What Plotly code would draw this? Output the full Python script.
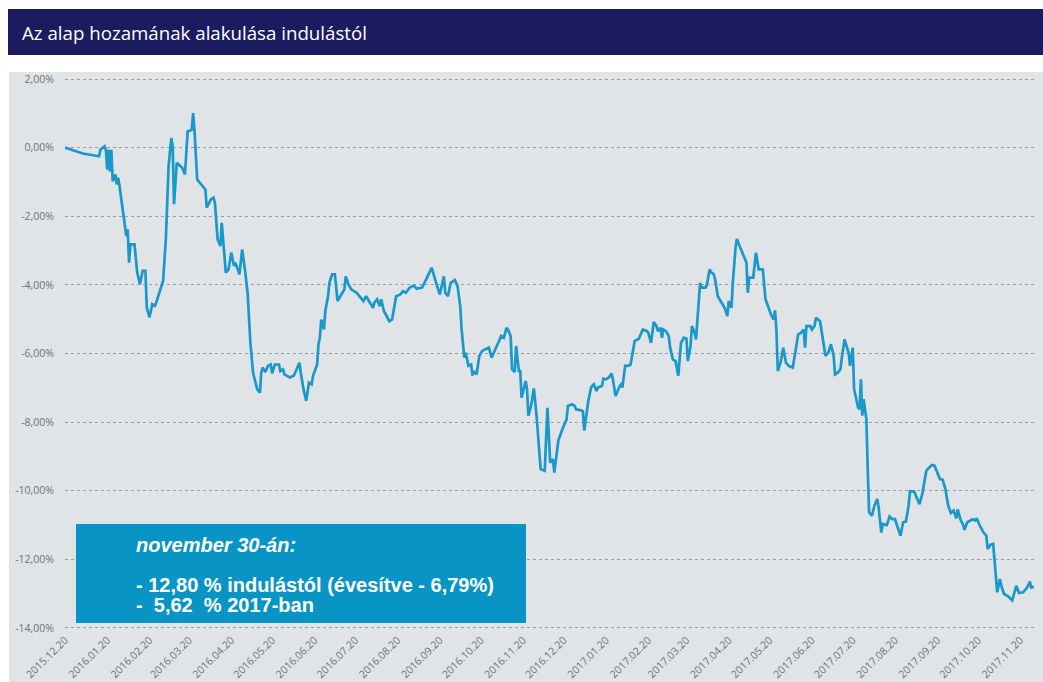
import plotly.graph_objects as go

# ---- data (fund return since launch, %) ----
dates = [
    "2015-12-20", "2016-01-02", "2016-01-14", "2016-01-15", "2016-01-18", "2016-01-19", "2016-01-20",
    "2016-01-21", "2016-01-22", "2016-01-23", "2016-01-24", "2016-01-26", "2016-01-27", "2016-01-28",
    "2016-01-29", "2016-01-31", "2016-02-02", "2016-02-03", "2016-02-04", "2016-02-05", "2016-02-06",
    "2016-02-09", "2016-02-11", "2016-02-13", "2016-02-15", "2016-02-17", "2016-02-18", "2016-02-20",
    "2016-02-22", "2016-02-24", "2016-02-25", "2016-02-28", "2016-03-01", "2016-03-03", "2016-03-05",
    "2016-03-07", "2016-03-08", "2016-03-09", "2016-03-11", "2016-03-15", "2016-03-17", "2016-03-19",
    "2016-03-22", "2016-03-23", "2016-03-24", "2016-03-26", "2016-03-30", "2016-04-01", "2016-04-02",
    "2016-04-05", "2016-04-07", "2016-04-08", "2016-04-10", "2016-04-12", "2016-04-13", "2016-04-15",
    "2016-04-16", "2016-04-18", "2016-04-20", "2016-04-22", "2016-04-23", "2016-04-26", "2016-04-28",
    "2016-04-30", "2016-05-02", "2016-05-04", "2016-05-06", "2016-05-09", "2016-05-11", "2016-05-12",
    "2016-05-13", "2016-05-15", "2016-05-17", "2016-05-19", "2016-05-20", "2016-05-22", "2016-05-25",
    "2016-05-26", "2016-05-28", "2016-05-29", "2016-06-02", "2016-06-05", "2016-06-07", "2016-06-09",
    "2016-06-10", "2016-06-12", "2016-06-14", "2016-06-15", "2016-06-16", "2016-06-18", "2016-06-19",
    "2016-06-22", "2016-06-23", "2016-06-24", "2016-06-25", "2016-06-27", "2016-06-28", "2016-06-30",
    "2016-07-01", "2016-07-03", "2016-07-05", "2016-07-07", "2016-07-09", "2016-07-11", "2016-07-12",
    "2016-07-13", "2016-07-15", "2016-07-17", "2016-07-21", "2016-07-26", "2016-07-28", "2016-07-30",
    "2016-08-02", "2016-08-03", "2016-08-05", "2016-08-07", "2016-08-08", "2016-08-10", "2016-08-12",
    "2016-08-14", "2016-08-16", "2016-08-18", "2016-08-19", "2016-08-22", "2016-08-24", "2016-08-26",
    "2016-08-29", "2016-09-01", "2016-09-03", "2016-09-07", "2016-09-09", "2016-09-10", "2016-09-14",
    "2016-09-16", "2016-09-18", "2016-09-20", "2016-09-21", "2016-09-23", "2016-09-24", "2016-09-26",
    "2016-09-28", "2016-10-01", "2016-10-03", "2016-10-05", "2016-10-06", "2016-10-08", "2016-10-09",
    "2016-10-10", "2016-10-11", "2016-10-13", "2016-10-14", "2016-10-15", "2016-10-17", "2016-10-19",
    "2016-10-21", "2016-10-23", "2016-10-26", "2016-10-28", "2016-10-31", "2016-11-02", "2016-11-04",
    "2016-11-06", "2016-11-08", "2016-11-09", "2016-11-11", "2016-11-12", "2016-11-14", "2016-11-15",
    "2016-11-17", "2016-11-18", "2016-11-19", "2016-11-22", "2016-11-23", "2016-11-24", "2016-11-26",
    "2016-11-28", "2016-11-30", "2016-12-02", "2016-12-03", "2016-12-06", "2016-12-08", "2016-12-10",
    "2016-12-12", "2016-12-13", "2016-12-15", "2016-12-16", "2016-12-19", "2016-12-22", "2016-12-23",
    "2016-12-26", "2016-12-28", "2016-12-29", "2017-01-01", "2017-01-03", "2017-01-04", "2017-01-07",
    "2017-01-09", "2017-01-11", "2017-01-13", "2017-01-14", "2017-01-17", "2017-01-18", "2017-01-20",
    "2017-01-22", "2017-01-24", "2017-01-25", "2017-01-27", "2017-01-28", "2017-01-30", "2017-01-31",
    "2017-02-01", "2017-02-03", "2017-02-05", "2017-02-07", "2017-02-09", "2017-02-10", "2017-02-13",
    "2017-02-14", "2017-02-16", "2017-02-19", "2017-02-20", "2017-02-22", "2017-02-23", "2017-02-24",
    "2017-02-26", "2017-02-27", "2017-03-01", "2017-03-02", "2017-03-03", "2017-03-05", "2017-03-07",
    "2017-03-08", "2017-03-10", "2017-03-12", "2017-03-14", "2017-03-15", "2017-03-16", "2017-03-18",
    "2017-03-20", "2017-03-21", "2017-03-23", "2017-03-24", "2017-03-26", "2017-03-27", "2017-03-29",
    "2017-03-30", "2017-03-31", "2017-04-03", "2017-04-04", "2017-04-06", "2017-04-07", "2017-04-09",
    "2017-04-10", "2017-04-12", "2017-04-14", "2017-04-17", "2017-04-19", "2017-04-20", "2017-04-22",
    "2017-04-23", "2017-04-25", "2017-04-26", "2017-04-28", "2017-05-01", "2017-05-03", "2017-05-04",
    "2017-05-05", "2017-05-08", "2017-05-09", "2017-05-10", "2017-05-12", "2017-05-15", "2017-05-17",
    "2017-05-19", "2017-05-21", "2017-05-23", "2017-05-24", "2017-05-25", "2017-05-26", "2017-05-28",
    "2017-05-30", "2017-06-01", "2017-06-03", "2017-06-06", "2017-06-08", "2017-06-10", "2017-06-12",
    "2017-06-14", "2017-06-15", "2017-06-16", "2017-06-19", "2017-06-20", "2017-06-22", "2017-06-23",
    "2017-06-26", "2017-06-28", "2017-06-30", "2017-07-02", "2017-07-04", "2017-07-06", "2017-07-07",
    "2017-07-09", "2017-07-11", "2017-07-12", "2017-07-14", "2017-07-15", "2017-07-17", "2017-07-18",
    "2017-07-20", "2017-07-21", "2017-07-24", "2017-07-25", "2017-07-26", "2017-07-27", "2017-07-28",
    "2017-07-29", "2017-07-30", "2017-07-31", "2017-08-01", "2017-08-03", "2017-08-05", "2017-08-07",
    "2017-08-08", "2017-08-10", "2017-08-11", "2017-08-14", "2017-08-16", "2017-08-18", "2017-08-20",
    "2017-08-22", "2017-08-24", "2017-08-26", "2017-08-28", "2017-08-30", "2017-08-31", "2017-09-03",
    "2017-09-05", "2017-09-07", "2017-09-09", "2017-09-10", "2017-09-12", "2017-09-13", "2017-09-16",
    "2017-09-18", "2017-09-20", "2017-09-22", "2017-09-24", "2017-09-26", "2017-09-28", "2017-09-30",
    "2017-10-02", "2017-10-04", "2017-10-05", "2017-10-07", "2017-10-09", "2017-10-10", "2017-10-12",
    "2017-10-14", "2017-10-16", "2017-10-18", "2017-10-19", "2017-10-21", "2017-10-24", "2017-10-26",
    "2017-10-27", "2017-10-29", "2017-10-31", "2017-11-01", "2017-11-03", "2017-11-05", "2017-11-06",
    "2017-11-08", "2017-11-11", "2017-11-14", "2017-11-17", "2017-11-19", "2017-11-22", "2017-11-25",
    "2017-11-27", "2017-11-28", "2017-11-30",
]

returns = [
    0.00, -0.17, -0.25, -0.06, 0.04, -0.06, -0.64,
    -0.06, -0.69, -0.06, -0.98, -0.78, -1.07, -0.88,
    -1.12, -1.70, -2.33, -2.58, -2.38, -3.35, -2.82,
    -2.82, -3.64, -3.98, -3.59, -3.59, -4.66, -4.95,
    -4.56, -4.61, -4.51, -4.17, -3.88, -2.67, -0.54,
    0.28, 0.04, -1.65, -0.44, -0.59, -0.78, 0.47,
    0.52, 1.01, 0.52, -0.93, -1.14, -1.22, -1.75,
    -1.51, -1.46, -1.61, -2.67, -2.87, -2.19, -3.06,
    -3.64, -3.55, -3.06, -3.45, -3.35, -3.69, -2.97,
    -3.55, -4.23, -5.68, -6.56, -7.04, -7.14, -6.56,
    -6.41, -6.54, -6.36, -6.32, -6.58, -6.32, -6.32,
    -6.51, -6.46, -6.61, -6.70, -6.64, -6.46, -6.27,
    -6.56, -7.04, -7.38, -7.14, -6.85, -6.90, -6.65,
    -6.32, -5.73, -5.54, -5.01, -5.30, -4.76, -4.33,
    -3.94, -3.69, -3.69, -4.47, -4.33, -4.23, -4.13,
    -3.75, -3.99, -4.13, -4.23, -4.47, -4.33, -4.47,
    -4.67, -4.52, -4.42, -4.62, -4.42, -4.76, -4.91,
    -5.06, -5.01, -4.62, -4.33, -4.28, -4.18, -4.23,
    -4.08, -4.02, -4.11, -4.08, -3.89, -3.84, -3.50,
    -3.79, -4.03, -4.28, -4.13, -3.75, -4.23, -4.33,
    -3.94, -3.86, -4.03, -4.62, -5.30, -6.12, -5.98,
    -6.17, -6.36, -6.32, -6.64, -6.51, -6.61, -6.07,
    -5.93, -5.88, -5.83, -6.12, -5.88, -5.68, -5.49,
    -5.54, -5.25, -5.30, -5.49, -6.46, -6.54, -5.78,
    -6.51, -6.51, -7.29, -6.80, -7.04, -7.81, -7.52,
    -7.02, -7.81, -8.88, -9.37, -9.42, -7.58, -9.18,
    -9.08, -9.47, -8.88, -8.54, -8.20, -7.92, -7.53,
    -7.48, -7.53, -7.63, -7.65, -7.68, -8.25, -7.38,
    -6.99, -6.90, -7.09, -6.99, -6.95, -6.73, -6.75,
    -6.70, -6.58, -6.75, -7.24, -7.14, -6.95, -6.90,
    -6.99, -6.36, -6.36, -6.32, -5.93, -5.64, -5.57,
    -5.49, -5.30, -5.35, -5.40, -5.69, -5.30, -5.08,
    -5.20, -5.35, -5.25, -5.54, -5.30, -5.35, -5.49,
    -5.83, -6.17, -6.22, -6.65, -6.17, -5.69, -5.54,
    -5.57, -6.22, -5.78, -5.20, -5.40, -5.59, -4.57,
    -3.94, -4.08, -4.08, -3.99, -3.55, -3.63, -3.69,
    -3.84, -4.33, -4.47, -4.67, -4.91, -4.47, -4.67,
    -3.94, -2.92, -2.66, -2.87, -3.16, -3.35, -4.23,
    -3.79, -3.79, -3.45, -3.06, -3.55, -3.55, -4.42,
    -4.67, -4.86, -5.01, -4.74, -5.30, -6.51, -6.27,
    -5.83, -6.27, -6.36, -6.41, -5.98, -5.44, -5.40,
    -5.30, -5.83, -5.20, -5.20, -5.30, -5.20, -4.96,
    -5.06, -5.59, -6.07, -5.98, -5.73, -6.07, -6.61,
    -6.56, -6.46, -6.12, -5.59, -5.73, -5.98, -6.36,
    -5.83, -7.04, -7.58, -7.63, -6.75, -7.81, -7.33,
    -7.63, -7.92, -9.37, -10.63, -10.73, -10.43, -10.24,
    -10.49, -11.22, -10.97, -11.00, -10.75, -10.83, -10.83,
    -11.07, -11.31, -10.92, -10.90, -10.43, -10.02, -10.02,
    -10.19, -10.39, -10.10, -9.86, -9.42, -9.37, -9.25,
    -9.27, -9.47, -9.66, -9.68, -9.95, -10.43, -10.65,
    -10.58, -10.80, -10.54, -10.83, -11.00, -11.14, -10.92,
    -10.87, -10.83, -10.87, -10.80, -11.00, -11.22, -11.31,
    -11.70, -11.58, -11.55, -11.99, -12.96, -12.57, -12.77,
    -13.01, -13.08, -13.20, -12.77, -12.98, -12.96, -12.82,
    -12.65, -12.82, -12.80,
]

x_tick_vals = [
    "2015-12-20", "2016-01-20", "2016-02-20", "2016-03-20", "2016-04-20", "2016-05-20",
    "2016-06-20", "2016-07-20", "2016-08-20", "2016-09-20", "2016-10-20", "2016-11-20",
    "2016-12-20", "2017-01-20", "2017-02-20", "2017-03-20", "2017-04-20", "2017-05-20",
    "2017-06-20", "2017-07-20", "2017-08-20", "2017-09-20", "2017-10-20", "2017-11-20",
]
x_tick_text = [
    "2015.12.20", "2016.01.20", "2016.02.20", "2016.03.20", "2016.04.20", "2016.05.20",
    "2016.06.20", "2016.07.20", "2016.08.20", "2016.09.20", "2016.10.20", "2016.11.20",
    "2016.12.20", "2017.01.20", "2017.02.20", "2017.03.20", "2017.04.20", "2017.05.20",
    "2017.06.20", "2017.07.20", "2017.08.20", "2017.09.20", "2017.10.20", "2017.11.20",
]
y_tick_vals = [2, 0, -2, -4, -6, -8, -10, -12, -14]
y_tick_text = ["2,00%", "0,00%", "-2,00%", "-4,00%", "-6,00%", "-8,00%", "-10,00%", "-12,00%", "-14,00%"]

title_text = "Az alap hozamának alakulása indulástól"
box_lines = [
    "<b><i>november 30-án:</i></b>",
    "<b>- 12,80 % indulástól (évesítve - 6,79%)</b>",
    "<b>-\u00a0 5,62\u00a0 % 2017-ban</b>",
]

# ---- layout geometry (pixels) ----
W, H = 1043, 682
L, R, T, B = 65, 9, 78, 53
pw, ph = W - L - R, H - T - B


def px(x):
    return (x - L) / pw


def py(y):
    return (H - B - y) / ph


fig = go.Figure()
fig.add_trace(go.Scatter(
    x=dates, y=returns, mode="lines",
    line=dict(color="#1a98c9", width=2.7),
    hoverinfo="skip", showlegend=False,
))

shapes = [
    # grey chart panel
    dict(type="rect", xref="paper", yref="paper", layer="below",
         x0=px(9), x1=px(1043), y0=py(682), y1=py(72),
         fillcolor="#e0e4e7", line=dict(width=0)),
    # navy header bar
    dict(type="rect", xref="paper", yref="paper", layer="below",
         x0=px(8), x1=px(1043), y0=py(55), y1=py(9),
         fillcolor="#1b1c5f", line=dict(width=0)),
    # blue info box
    dict(type="rect", xref="paper", yref="paper", layer="above",
         x0=px(76), x1=px(526), y0=py(623), y1=py(524),
         fillcolor="#0895c6", line=dict(width=0)),
]

annotations = [
    dict(text=title_text, xref="paper", yref="paper", x=px(20), y=py(32),
         xanchor="left", yanchor="middle", showarrow=False,
         font=dict(family="Open Sans, sans-serif", size=18.7, color="white")),
]
box_y = [545, 585, 605]
for txt, yy in zip(box_lines, box_y):
    annotations.append(dict(
        text=txt, xref="paper", yref="paper", x=px(134), y=py(yy),
        xanchor="left", yanchor="middle", showarrow=False,
        font=dict(family="Liberation Sans, Arial, sans-serif", size=20, color="white"),
    ))

fig.update_layout(
    width=W, height=H, autosize=False,
    margin=dict(l=L, r=R, t=T, b=B, pad=0, autoexpand=False),
    paper_bgcolor="white", plot_bgcolor="rgba(0,0,0,0)",
    shapes=shapes, annotations=annotations,
    showlegend=False,
    xaxis=dict(
        type="date", range=["2015-12-20", "2017-11-30"], automargin=False,
        tickmode="array", tickvals=x_tick_vals, ticktext=x_tick_text,
        tickangle=-45, showgrid=False, zeroline=False, showline=False, ticks="",
        tickfont=dict(family="Open Sans, sans-serif", size=10.5, color="#6f7378"),
        ticklabelstandoff=2,
    ),
    yaxis=dict(
        range=[-14.03, 2.03], automargin=False,
        tickmode="array", tickvals=y_tick_vals, ticktext=y_tick_text,
        showgrid=True, gridcolor="#9a9da1", griddash="dot", gridwidth=1,
        zeroline=False, showline=False, ticks="",
        tickfont=dict(family="Open Sans, sans-serif", size=10.5, color="#6f7378"),
        ticklabelstandoff=10,
    ),
)

fig.write_html(
    "out.html",
    config={"displayModeBar": False},
    post_script="document.body.style.margin='0';document.body.style.overflow='hidden';",
)
